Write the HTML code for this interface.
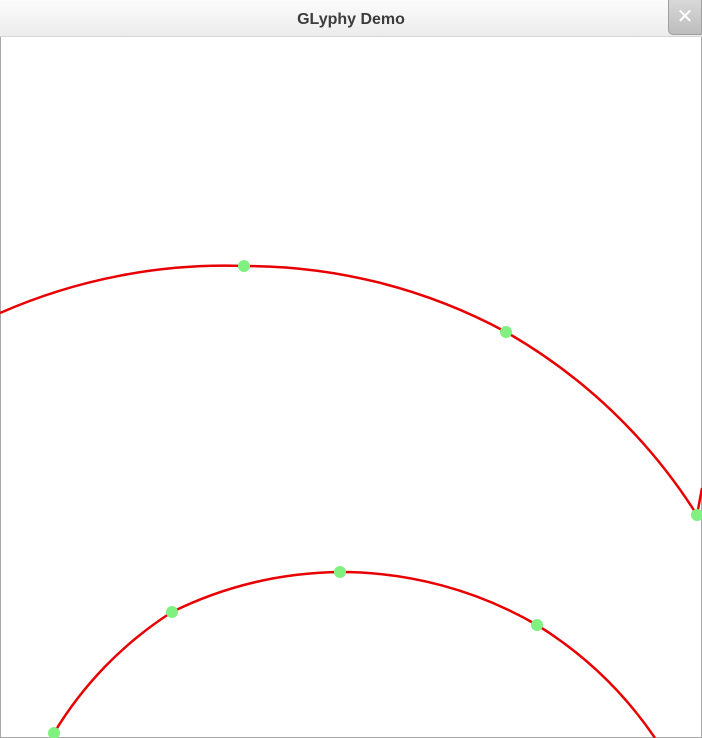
<!DOCTYPE html>
<html><head><meta charset="utf-8"><style>
html,body{margin:0;padding:0;width:702px;height:738px;overflow:hidden;background:#fff;font-family:"Liberation Sans",sans-serif}
#win{position:absolute;left:0;top:0;width:700px;height:737px;border:1px solid #a8a8a8;border-top:none;background:#fff}
#bar{position:absolute;left:0;top:0;width:702px;height:36px;background:linear-gradient(#fcfcfc,#ececec);border-bottom:1px solid #d6d6d6}
#title{position:absolute;left:0;width:702px;top:11px;text-align:center;font-weight:bold;font-size:16px;color:#3c3c3c}
#close{position:absolute;left:668px;top:0;width:32px;height:34px;background:linear-gradient(#d8d8d8,#bdbdbd);border:1px solid #a0a0a0;border-top:none;border-radius:0 0 0 5px;color:#fff;font-size:20px;text-align:center;line-height:34px}
svg{position:absolute;left:0;top:0}
</style></head><body>
<div id="win"></div>
<div id="bar"><div id="title">GLyphy Demo</div>
<div id="close">✕</div></div>
<svg width="702" height="738">
<path d="M0,313 A560 560 0 0 1 244,266 A548 548 0 0 1 506,332 A545 545 0 0 1 697,515 L702,488" fill="none" stroke="#e80000" stroke-width="2.5"/>
<path d="M54,733 A370 370 0 0 1 172,612 A391 391 0 0 1 340,572 A392 392 0 0 1 537,625 A392 392 0 0 1 655,738" fill="none" stroke="#e80000" stroke-width="2.5"/>
<g fill="#80f080">
<circle cx="244" cy="266" r="6"/><circle cx="506" cy="332" r="6"/><circle cx="697" cy="515" r="6"/>
<circle cx="54" cy="733" r="6"/><circle cx="172" cy="612" r="6"/><circle cx="340" cy="572" r="6"/><circle cx="537" cy="625" r="6"/>
</g>
</svg>
</body></html>
